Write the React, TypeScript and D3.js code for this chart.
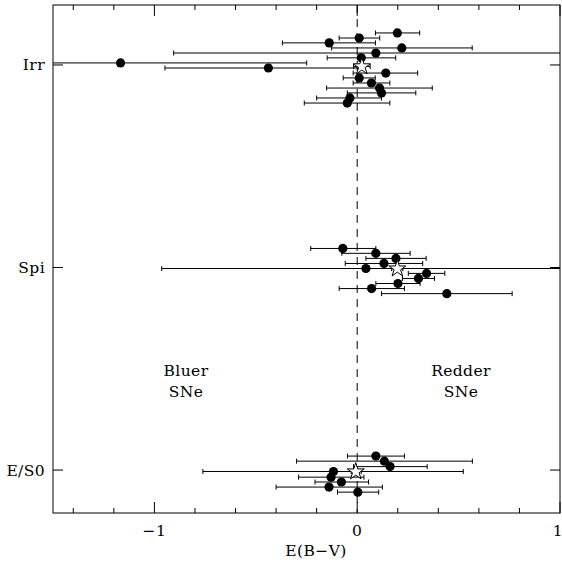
import React from "react";
import * as d3 from "d3";

// ---- data ----
const categories = ["E/S0", "Spi", "Irr"]; // positions 1, 2, 3

// Irr (category 3)
const irrValue = [0.198, 0.01, -0.138, 0.22, 0.092, 0.02, -1.167, -0.438, 0.141, 0.01, 0.07, 0.11, 0.12, -0.036, -0.049];
const irrLo = [0.09, -0.089, -0.369, -0.126, -0.905, -0.148, -1.8, -0.948, -0.02, -0.069, -0.02, -0.151, -0.049, -0.2, -0.261];
const irrHi = [0.308, 0.111, 0.09, 0.567, 1.3, 0.19, -0.249, 0.0, 0.298, 0.089, 0.161, 0.37, 0.289, 0.12, 0.161];
const irrY = [3.158, 3.133, 3.109, 3.084, 3.059, 3.035, 3.01, 2.985, 2.96, 2.936, 2.911, 2.886, 2.862, 2.837, 2.812];

// Spi (category 2)
const spiValue = [-0.071, 0.092, 0.191, 0.132, 0.043, 0.342, 0.302, 0.201, 0.071, 0.442];
const spiLo = [-0.229, -0.076, 0.043, -0.059, -0.964, 0.252, 0.223, 0.092, -0.089, 0.12];
const spiHi = [0.092, 0.261, 0.34, 0.323, 1.2, 0.432, 0.381, 0.31, 0.233, 0.764];
const spiY = [2.094, 2.07, 2.045, 2.02, 1.995, 1.971, 1.946, 1.921, 1.896, 1.871];

// E/S0 (category 1)
const esValue = [0.092, 0.134, 0.162, -0.117, -0.129, -0.078, -0.139, 0.003];
const esLo = [-0.048, -0.299, -0.018, -0.761, -0.289, -0.208, -0.4, -0.097];
const esHi = [0.233, 0.568, 0.345, 0.523, 0.033, 0.056, 0.124, 0.106];
const esY = [1.069, 1.044, 1.017, 0.993, 0.965, 0.941, 0.916, 0.891];

// mean (star) per category
const starValue = [-0.007, 0.198, 0.023];
const starLo = [-0.03, 0.17, -0.018];
const starHi = [0.02, 0.225, 0.064];
const starY = [0.992, 1.994, 2.992];

const xMajorTicks = [-1, 0, 1];
const xMinorTicks = d3.range(-1.4, 1.0001, 0.2);

const W = 562;
const H = 561;
const L = 53, R = 560, T = 5, B = 513;
const FONT = "'DejaVu Serif', serif";
const FS = 15.5;

export default function App() {
  const x = d3.scaleLinear().domain([-1.5, 1]).range([L, R]);
  const y = d3.scaleLinear().domain([0.788, 3.296]).range([B, T]);

  const pts: { v: number; lo: number; hi: number; yy: number }[] = [];
  const add = (v: number[], lo: number[], hi: number[], yy: number[]) =>
    v.forEach((d, i) => pts.push({ v: d, lo: lo[i], hi: hi[i], yy: yy[i] }));
  add(irrValue, irrLo, irrHi, irrY);
  add(spiValue, spiLo, spiHi, spiY);
  add(esValue, esLo, esHi, esY);

  const star = d3.symbol().type(d3.symbolStar).size(90)();
  const cap = 2.5;

  const bar = (lo: number, hi: number, yy: number, k: string) => {
    const py = y(yy);
    return (
      <g key={k} stroke="#000" strokeWidth={1}>
        <line x1={x(lo)} x2={x(hi)} y1={py} y2={py} />
        <line x1={x(lo)} x2={x(lo)} y1={py - cap} y2={py + cap} />
        <line x1={x(hi)} x2={x(hi)} y1={py - cap} y2={py + cap} />
      </g>
    );
  };

  const txt = (s: string, tx: number, ty: number, anchor: string, k: string) => (
    <text key={k} x={tx} y={ty} textAnchor={anchor} fontFamily={FONT} fontSize={FS} letterSpacing={0.4}>
      {s}
    </text>
  );

  return (
    <svg width={W} height={H} style={{ position: "absolute", left: 0, top: 0, background: "#fff" }}>
      <defs>
        <clipPath id="plot">
          <rect x={L} y={T} width={R - L} height={B - T} />
        </clipPath>
      </defs>
      <rect x={0} y={0} width={W} height={H} fill="#fff" />
      {/* dashed zero line */}
      <line x1={x(0)} x2={x(0)} y1={T} y2={B} stroke="#000" strokeWidth={1} strokeDasharray="8,6" />
      <g clipPath="url(#plot)">
        {pts.map((p, i) => bar(p.lo, p.hi, p.yy, "b" + i))}
        {starValue.map((v, i) => bar(starLo[i], starHi[i], starY[i], "sb" + i))}
        {pts.map((p, i) => (
          <circle key={"c" + i} cx={x(p.v)} cy={y(p.yy)} r={4.6} fill="#000" />
        ))}
        {starValue.map((v, i) => (
          <path key={"s" + i} d={star!} transform={`translate(${x(v)},${y(starY[i])})`} fill="#fff" stroke="#000" strokeWidth={1} />
        ))}
      </g>
      {/* frame */}
      <rect x={L} y={T} width={R - L} height={B - T} fill="none" stroke="#000" strokeWidth={1} />
      {/* x ticks */}
      {xMinorTicks.map((t, i) => {
        const major = xMajorTicks.some((m) => Math.abs(m - t) < 1e-6);
        const len = major ? 11 : 5;
        return (
          <g key={"xt" + i} stroke="#000">
            <line x1={x(t)} x2={x(t)} y1={B} y2={B - len} />
            <line x1={x(t)} x2={x(t)} y1={T} y2={T + len} />
          </g>
        );
      })}
      {xMajorTicks.map((t) =>
        txt(t < 0 ? "\u2212" + Math.abs(t) : String(t), t === 1 ? x(t) - 2 : x(t), 536, "middle", "xl" + t)
      )}
      {/* y ticks */}
      {categories.map((c, i) => (
        <g key={"yt" + c}>
          <line x1={L} x2={L + 10} y1={y(i + 1)} y2={y(i + 1)} stroke="#000" />
          <line x1={R} x2={R - 10} y1={y(i + 1)} y2={y(i + 1)} stroke="#000" />
          {txt(c, 45, y(i + 1) + 5.5, "end", "yl" + c)}
        </g>
      ))}
      {txt("E(B\u2212V)", 316, 556, "middle", "xt")}
      {txt("Bluer", 186, 376, "middle", "b1")}
      {txt("SNe", 186, 397, "middle", "b2")}
      {txt("Redder", 461, 376, "middle", "r1")}
      {txt("SNe", 461, 397, "middle", "r2")}
    </svg>
  );
}
